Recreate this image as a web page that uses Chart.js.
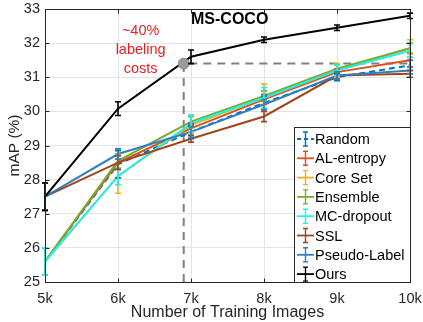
<!DOCTYPE html>
<html>
<head>
<meta charset="utf-8">
<script src="https://cdn.jsdelivr.net/npm/chart.js@4/dist/chart.umd.min.js"></script>
<style>
html,body{margin:0;padding:0;background:#fff;}
#wrap{width:423px;height:322px;position:relative;}
</style>
</head>
<body>
<div id="wrap"><canvas id="c" width="423" height="322"></canvas></div>
<script>
const xValues = [5000, 6000, 7000, 8000, 9000, 10000];
const xTickLabels = ['5k', '6k', '7k', '8k', '9k', '10k'];
const yTickValues = [25, 26, 27, 28, 29, 30, 31, 32, 33];

const seriesNames = ['Random', 'AL-entropy', 'Core Set', 'Ensemble', 'MC-dropout', 'SSL', 'Pseudo-Label', 'Ours'];
const seriesColors = ['#0072BD', '#D95319', '#EDB120', '#77AC30', '#1EF0F0', '#A0461E', '#2F7FC1', '#000000'];

const randomVals      = [25.6, 28.45, 29.4, 30.25, 31.0, 31.35];
const alEntropyVals   = [25.6, 28.5, 29.5, 30.35, 31.15, 31.5];
const coreSetVals     = [25.6, 28.1, 29.6, 30.4, 31.2, 31.85];
const ensembleVals    = [25.6, 28.55, 29.7, 30.45, 31.25, 31.85];
const mcDropoutVals   = [25.6, 28.1, 29.65, 30.4, 31.2, 31.78];
const sslVals         = [27.5, 28.5, 29.2, 29.85, 31.05, 31.1];
const pseudoLabelVals = [27.5, 28.75, 29.4, 30.2, 31.05, 31.2];
const oursVals        = [27.5, 30.08, 31.6, 32.1, 32.45, 32.8];

const randomErr      = [0.4, 0.4, 0.2, 0.2, 0.1, 0.15];
const alEntropyErr   = [0.4, 0.2, 0.15, 0.15, 0.1, 0.2];
const coreSetErr     = [0.4, 0.5, 0.25, 0.4, 0.2, 0.25];
const ensembleErr    = [0.4, 0.2, 0.15, 0.15, 0.1, 0.15];
const mcDropoutErr   = [0.4, 0.25, 0.25, 0.3, 0.15, 0.2];
const sslErr         = [0.4, 0.2, 0.1, 0.15, 0.1, 0.1];
const pseudoLabelErr = [0.4, 0.15, 0.15, 0.15, 0.1, 0.1];
const oursErr        = [0.4, 0.2, 0.2, 0.08, 0.08, 0.08];

const seriesValues = [randomVals, alEntropyVals, coreSetVals, ensembleVals, mcDropoutVals, sslVals, pseudoLabelVals, oursVals];
const seriesErrors = [randomErr, alEntropyErr, coreSetErr, ensembleErr, mcDropoutErr, sslErr, pseudoLabelErr, oursErr];
const seriesDashed = [true, false, false, false, false, false, false, false];

// marker for the ~40% labeling cost reference
const refX = 6900;
const refY = 31.4;
const refLineX = [6900, 6900, 10000];
const refLineY = [25, 31.4, 31.4];

const annotationLines = ['~40%', 'labeling', 'costs'];
const plotTitle = 'MS-COCO';

const FONT = "'Liberation Sans', Arial, Helvetica, sans-serif";

const datasets = seriesNames.map((name, i) => ({
  label: name,
  data: xValues.map((x, j) => ({x: x, y: seriesValues[i][j]})),
  borderColor: seriesColors[i],
  backgroundColor: seriesColors[i],
  borderWidth: 2,
  borderDash: seriesDashed[i] ? [6, 4] : [],
  pointRadius: 0,
  tension: 0,
  order: seriesNames.length - i + 2
}));

datasets.push({
  label: 'ref-line',
  data: refLineX.map((x, j) => ({x: x, y: refLineY[j]})),
  borderColor: '#808080',
  borderWidth: 2,
  borderDash: [8, 6],
  pointRadius: 0,
  tension: 0,
  order: 20
});
datasets.push({
  label: 'ref-point',
  data: [{x: refX, y: refY}],
  borderColor: '#8c8c8c',
  backgroundColor: '#9a9a9a',
  pointRadius: 5.5,
  showLine: false,
  order: 0
});

const errorBarPlugin = {
  id: 'errorBars',
  afterDatasetsDraw(chart) {
    const ctx = chart.ctx;
    const xs = chart.scales.x, ys = chart.scales.y;
    ctx.save();
    ctx.beginPath();
    ctx.rect(chart.chartArea.left - 6, chart.chartArea.top - 6, chart.chartArea.width + 12, chart.chartArea.height + 12);
    ctx.clip();
    for (let i = 0; i < seriesNames.length; i++) {
      const vals = seriesValues[i], errs = seriesErrors[i];
      ctx.strokeStyle = seriesColors[i];
      ctx.lineWidth = 1.6;
      ctx.setLineDash([]);
      for (let j = 0; j < xValues.length; j++) {
        const px = xs.getPixelForValue(xValues[j]);
        const top = ys.getPixelForValue(vals[j] + errs[j]);
        const bot = ys.getPixelForValue(vals[j] - errs[j]);
        const cap = 3;
        ctx.beginPath();
        ctx.moveTo(px, top); ctx.lineTo(px, bot);
        ctx.moveTo(px - cap, top); ctx.lineTo(px + cap, top);
        ctx.moveTo(px - cap, bot); ctx.lineTo(px + cap, bot);
        ctx.stroke();
      }
    }
    ctx.restore();
  }
};

const decorPlugin = {
  id: 'decor',
  afterDraw(chart) {
    const ctx = chart.ctx;
    const a = chart.chartArea;
    const xs = chart.scales.x, ys = chart.scales.y;
    ctx.save();
    // axes box
    ctx.strokeStyle = '#262626';
    ctx.lineWidth = 1;
    ctx.setLineDash([]);
    const L = Math.round(a.left) + 0.5, T = Math.round(a.top) + 0.5;
    const R = L + Math.round(a.width), B = T + Math.round(a.height);
    ctx.strokeRect(L, T, R - L, B - T);
    // inward tick marks
    ctx.beginPath();
    xValues.forEach(v => {
      const px = Math.round(xs.getPixelForValue(v)) + 0.5;
      ctx.moveTo(px, B); ctx.lineTo(px, B - 4);
      ctx.moveTo(px, T); ctx.lineTo(px, T + 4);
    });
    yTickValues.forEach(v => {
      const py = Math.round(ys.getPixelForValue(v)) + 0.5;
      ctx.moveTo(L, py); ctx.lineTo(L + 4, py);
      ctx.moveTo(R, py); ctx.lineTo(R - 4, py);
    });
    ctx.stroke();

    // title
    ctx.fillStyle = '#000';
    ctx.font = 'bold 16px ' + FONT;
    ctx.textAlign = 'center';
    ctx.textBaseline = 'middle';
    ctx.fillText(plotTitle, xs.getPixelForValue(7530), ys.getPixelForValue(32.7));

    // annotation
    ctx.fillStyle = '#E8211F';
    ctx.font = '14.5px ' + FONT;
    const ax = xs.getPixelForValue(6310);
    const ay0 = ys.getPixelForValue(32.36);
    annotationLines.forEach((t, k) => ctx.fillText(t, ax, ay0 + k * 19));

    // legend
    const lx = 294, ly = 127, lw = Math.round(a.right) - 294, lh = Math.round(a.bottom) - 127;
    ctx.fillStyle = '#fff';
    ctx.fillRect(lx, ly, lw, lh);
    ctx.strokeStyle = '#262626';
    ctx.lineWidth = 1;
    ctx.strokeRect(lx + 0.5, ly + 0.5, lw, lh);
    ctx.font = '14.5px ' + FONT;
    ctx.textAlign = 'left';
    seriesNames.forEach((name, i) => {
      const yy = 139 + i * 19.3;
      ctx.strokeStyle = seriesColors[i];
      ctx.lineWidth = 1.8;
      ctx.setLineDash(seriesDashed[i] ? [4, 3] : []);
      ctx.beginPath();
      ctx.moveTo(297, yy); ctx.lineTo(314, yy);
      ctx.stroke();
      ctx.setLineDash([]);
      ctx.lineWidth = 1.4;
      ctx.beginPath();
      ctx.moveTo(305.5, yy - 7); ctx.lineTo(305.5, yy + 7);
      ctx.moveTo(303, yy - 7); ctx.lineTo(308, yy - 7);
      ctx.moveTo(303, yy + 7); ctx.lineTo(308, yy + 7);
      ctx.stroke();
      ctx.fillStyle = '#000';
      ctx.textBaseline = 'middle';
      ctx.fillText(name, 315, yy + 1);
    });
    ctx.restore();
  }
};

new Chart(document.getElementById('c'), {
  type: 'line',
  data: {datasets: datasets},
  options: {
    responsive: false,
    animation: false,
    events: [],
    layout: {padding: {left: 0, right: 13, top: 9, bottom: 0}},
    plugins: {legend: {display: false}, tooltip: {enabled: false}},
    scales: {
      x: {
        type: 'linear',
        min: xValues[0],
        max: xValues[xValues.length - 1],
        afterBuildTicks(scale) { scale.ticks = xValues.map(v => ({value: v})); },
        afterFit(scale) { scale.height = 40; scale.paddingLeft = 0; scale.paddingRight = 0; },
        ticks: {
          callback: (v) => xTickLabels[xValues.indexOf(v)],
          color: '#262626',
          font: {family: FONT, size: 14.5},
          padding: 8,
          maxRotation: 0
        },
        grid: {color: '#e3e3e3', drawTicks: false, lineWidth: 1},
        border: {display: false},
        title: {display: true, text: 'Number of Training Images', color: '#262626', font: {family: FONT, size: 16}, padding: {top: 0, bottom: 0}}
      },
      y: {
        type: 'linear',
        min: yTickValues[0],
        max: yTickValues[yTickValues.length - 1],
        afterBuildTicks(scale) { scale.ticks = yTickValues.map(v => ({value: v})); },
        afterFit(scale) { scale.width = 45; scale.paddingTop = 0; scale.paddingBottom = 0; },
        ticks: {
          color: '#262626',
          font: {family: FONT, size: 14.5},
          padding: 5
        },
        grid: {color: '#e3e3e3', drawTicks: false, lineWidth: 1},
        border: {display: false},
        title: {display: true, text: 'mAP (%)', color: '#262626', font: {family: FONT, size: 15.5}, padding: {top: 5, bottom: 0}}
      }
    }
  },
  plugins: [errorBarPlugin, decorPlugin]
});
</script>
</body>
</html>
